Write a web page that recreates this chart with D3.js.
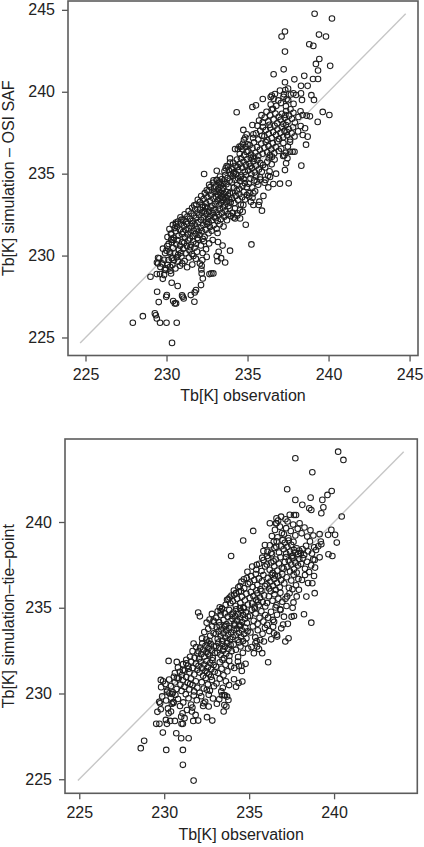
<!DOCTYPE html>
<html>
<head>
<meta charset="utf-8">
<script src="https://cdn.jsdelivr.net/npm/d3@7"></script>
<style>
  body { margin: 0; background: #fff; }
  svg text { font-family: "Liberation Sans", Arial, Helvetica, sans-serif; fill: #222; }
</style>
</head>
<body>
<div id="chart-area"></div>
<script>
/** Data: [Tb observation, Tb simulation] in K **/
const ticksTop = [225, 230, 235, 240, 245];
const ticksBottom = [225, 230, 235, 240];
const xTitle = 'Tb[K] observation';
const yTitleTop = 'Tb[K] simulation \u2013 OSI SAF';
const yTitleBottom = 'Tb[K] simulation\u2013tie\u2013point';

// OSI SAF panel, scattered points away from the band
const osiSafOuter = [
  [239.14,244.76],[240.21,244.47],[237.31,243.68],[237.1,243.37],[239.41,243.49],[239.84,243.37],
  [237.31,242.45],[238.81,242.9],[239.06,242.8],[239.43,242.0],[239.22,241.7],[239.35,241.3],
  [240.1,241.58],[237.23,241.37],[236.61,241.07],[238.5,240.97],[237.89,240.76],[239.04,240.78],
  [239.35,240.78],[237.31,240.58],[238.3,240.36],[238.71,240.36],[237.0,240.07],[237.33,240.11],
  [237.5,240.19],[237.83,239.9],[237.99,239.8],[237.25,239.85],[237.41,239.54],[238.94,239.79],
  [239.1,239.5],[238.3,239.9],[238.36,239.5],[236.43,239.68],[236.5,239.77],[235.94,239.56],
  [235.52,239.17],[235.3,239.07],[234.33,238.75],[239.64,238.77],[240.05,238.58],[239.33,238.16],
  [238.85,238.5],[238.65,238.54],[238.4,238.58],[238.55,237.77],[238.71,237.26],[238.61,236.77],
  [238.32,235.49],[237.62,236.34],[237.78,236.34],[237.9,236.34],[237.54,234.41],[237.0,234.39],
  [236.59,234.37],[236.28,234.16],[236.39,234.8],[236.76,235.0],[237.31,235.22],[237.38,235.63],
  [237.46,235.94],[237.2,236.08],[234.95,237.4],[235.36,237.4],[235.3,237.97],[234.74,237.67],
  [232.32,234.98],[233.1,235.18],[234.23,236.5],[234.4,236.5],[234.5,236.65],[233.92,235.93],
  [233.8,235.43],[234.13,235.02],[232.9,234.6],[233.1,234.62],[233.3,234.5],
  [234.37,232.58],[234.54,232.27],[234.7,232.68],[234.23,232.27],[234.74,233.09],[235.1,233.6],
  [235.36,233.8],[235.73,233.29],[235.98,233.64],[235.69,233.09],[235.89,232.74],[235.36,233.09],
  [235.57,234.51],[235.77,234.78],[235.0,236.79],[234.6,236.65],
  [234.89,231.88],[235.24,230.68],[233.92,230.3],[233.1,229.97],[233.22,230.23],[233.14,229.66],
  [232.89,228.91],[232.77,228.91],[232.65,228.87],[232.17,229.38],[232.15,229.15],[232.17,228.91],
  [232.24,228.6],[232.13,228.2],[231.82,227.89],[231.74,227.75],[231.72,227.18],[231.5,227.59],
  [231.06,227.38],[231.0,227.48],[230.32,228.34],[230.69,228.14],[230.28,228.91],[230.36,229.42],
  [230.12,229.73],[229.89,229.15],[229.85,228.81],[229.77,228.58],[229.48,229.87],[229.48,229.52],
  [229.42,227.79],[229.52,227.16],[229.28,226.47],[229.34,226.36],[229.4,226.16],[229.6,225.9],
  [230.0,225.9],[230.63,225.9],[228.54,226.3],[227.92,225.9],[230.34,224.67],[230.02,227.59],
  [229.98,227.48],[230.41,227.22],[230.51,227.08],[230.59,227.08],[230.96,227.57],[229.95,229.22],
  [230.22,229.32],[230.22,230.13],[229.01,228.71],[229.4,228.87],[229.6,228.87],[229.71,229.52],
  [230.32,229.83],[230.3,231.29],[230.57,231.92],[230.43,230.95],[230.0,230.3],[229.56,229.83]
];

// OSI SAF panel, the dense band
const osiSafCore = [
  [229.62,229.31],[229.85,229.74],[229.41,229.58],[229.93,229.12],
  [230.08,229.44],[230.37,229.86],[230.55,229.21],[230.71,229.63],[230.92,229.95],[230.24,229.07],[230.83,229.38],[230.46,229.71],[230.97,229.52],[230.63,229.9],
  [231.12,229.67],[231.38,229.88],[231.59,229.45],[231.27,229.29],[231.81,229.81],[231.66,229.97],
  [232.21,229.73],[232.48,229.92],[232.06,229.51],[233.37,229.84],[233.62,229.58],
  [229.78,230.42],[229.91,230.16],
  [230.04,230.58],[230.19,230.23],[230.33,230.81],[230.41,230.47],[230.52,230.12],[230.6,230.69],[230.68,230.94],[230.77,230.36],[230.84,230.6],[230.9,230.17],[230.96,230.83],[230.29,230.97],[230.13,230.71],[230.72,230.05],
  [231.03,230.41],[231.09,230.77],[231.18,230.14],[231.26,230.58],[231.34,230.92],[231.42,230.31],[231.51,230.66],[231.57,230.09],[231.65,230.85],[231.73,230.48],[231.82,230.72],[231.88,230.24],[231.95,230.97],[231.47,230.51],
  [232.12,230.62],[232.31,230.87],[232.44,230.39],[232.63,230.74],[232.23,230.16],[232.85,230.95],[233.18,230.83],[233.46,230.61],
  [230.06,231.13],[230.18,231.62],[230.27,231.34],[230.39,231.87],[230.45,231.08],[230.57,231.49],[230.66,231.76],[230.74,231.21],[230.82,231.58],[230.88,231.95],[230.95,231.31],[230.51,231.68],
  [231.02,231.44],[231.07,231.81],[231.14,231.12],[231.19,231.57],[231.25,231.93],[231.32,231.29],[231.37,231.66],[231.44,231.04],[231.49,231.41],[231.55,231.78],[231.61,231.19],[231.68,231.52],[231.74,231.89],[231.79,231.33],[231.86,231.64],[231.91,231.08],[231.97,231.47],[231.58,231.97],
  [232.04,231.26],[232.11,231.69],[232.19,231.48],[232.27,231.87],[232.35,231.15],[232.42,231.58],[232.5,231.93],[232.59,231.36],[232.68,231.74],[232.79,231.52],[232.91,231.85],[232.24,231.02],
  [233.09,231.64],[233.28,231.91],[233.52,231.77],[233.15,231.38],
  [230.71,232.08],[230.86,232.34],[230.93,232.19],[230.58,232.02],
  [231.04,232.16],[231.12,232.52],[231.21,232.07],[231.29,232.38],[231.36,232.71],[231.45,232.24],[231.53,232.57],[231.62,232.11],[231.7,232.44],[231.77,232.83],[231.84,232.29],[231.92,232.63],[231.97,232.05],[231.58,232.92],
  [232.02,232.47],[232.07,232.81],[232.13,232.18],[232.18,232.62],[232.24,232.95],[232.29,232.33],[232.35,232.71],[232.41,232.06],[232.46,232.52],[232.52,232.88],[232.57,232.24],[232.63,232.67],[232.69,232.41],[232.74,232.93],[232.8,232.15],[232.86,232.58],[232.91,232.79],[232.96,232.36],[232.38,232.97],[232.6,232.02],
  [233.03,232.28],[233.09,232.64],[233.16,232.11],[233.22,232.47],[233.29,232.83],[233.35,232.22],[233.42,232.59],[233.49,232.94],[233.57,232.37],[233.64,232.72],[233.73,232.16],[233.81,232.53],[233.9,232.88],[233.97,232.42],
  [234.08,232.61],[234.22,232.87],[234.37,232.44],[234.53,232.76],[234.14,232.32],
  [231.84,233.12],[231.93,233.41],[231.71,233.06],
  [232.06,233.27],[232.14,233.63],[232.21,233.08],[232.29,233.45],[232.36,233.81],[232.44,233.19],[232.52,233.56],[232.59,233.92],[232.67,233.33],[232.74,233.71],[232.82,233.04],[232.89,233.48],[232.96,233.86],[232.48,233.99],
  [233.02,233.15],[233.05,233.58],[233.09,233.91],[233.14,233.34],[233.18,233.72],[233.23,233.06],[233.27,233.47],[233.32,233.84],[233.36,233.23],[233.41,233.61],[233.45,233.97],[233.5,233.38],[233.55,233.76],[233.59,233.11],[233.64,233.52],[233.68,233.89],[233.73,233.29],[233.78,233.67],[233.82,233.02],[233.87,233.43],[233.91,233.81],[233.96,233.26],[233.49,233.54],[233.25,233.99],
  [234.04,233.48],[234.11,233.83],[234.19,233.21],[234.27,233.64],[234.34,233.95],[234.42,233.37],[234.5,233.74],[234.58,233.12],[234.67,233.56],[234.76,233.88],[234.85,233.42],[234.95,233.7],
  [235.12,233.81],[235.31,233.53],[235.47,233.92],[235.21,233.28],
  [232.71,234.18],[232.86,234.44],[232.94,234.09],[232.63,234.32],
  [233.04,234.22],[233.1,234.61],[233.17,234.05],[233.23,234.43],[233.3,234.82],[233.37,234.27],[233.43,234.67],[233.5,234.13],[233.57,234.52],[233.63,234.91],[233.7,234.36],[233.77,234.74],[233.83,234.18],[233.9,234.57],[233.96,234.96],[233.46,234.38],
  [234.03,234.47],[234.09,234.86],[234.16,234.14],[234.22,234.63],[234.29,234.98],[234.36,234.31],[234.42,234.72],[234.49,234.08],[234.56,234.54],[234.62,234.89],[234.69,234.26],[234.76,234.67],[234.83,234.42],[234.9,234.93],[234.96,234.19],[234.58,234.78],
  [235.07,234.38],[235.18,234.71],[235.29,234.16],[235.41,234.59],[235.53,234.88],[235.66,234.33],[235.79,234.64],[235.24,234.96],
  [236.11,234.62],[236.27,234.87],[236.05,234.45],
  [233.58,235.14],[233.71,235.46],[233.84,235.22],[233.92,235.68],[233.65,235.33],
  [234.04,235.27],[234.11,235.66],[234.19,235.09],[234.27,235.48],[234.35,235.86],[234.43,235.21],[234.51,235.59],[234.59,235.94],[234.67,235.36],[234.75,235.73],[234.83,235.12],[234.9,235.52],[234.97,235.88],[234.39,235.41],
  [235.04,235.19],[235.12,235.61],[235.2,235.97],[235.28,235.34],[235.36,235.76],[235.45,235.08],[235.53,235.49],[235.61,235.84],[235.7,235.26],[235.79,235.64],[235.88,235.12],[235.96,235.53],[235.41,235.91],[235.15,235.43],
  [236.09,235.38],[236.22,235.72],[236.36,235.15],[236.49,235.57],[236.67,235.86],[236.31,235.94],
  [234.52,236.21],[234.68,236.49],[234.79,236.12],[234.88,236.64],[234.94,236.33],[234.71,236.82],
  [235.05,236.38],[235.13,236.74],[235.22,236.16],[235.31,236.55],[235.4,236.91],[235.49,236.27],[235.58,236.63],[235.67,236.08],[235.76,236.46],[235.85,236.84],[235.93,236.22],[235.36,236.05],
  [236.04,236.58],[236.12,236.93],[236.21,236.31],[236.29,236.69],[236.38,236.12],[236.47,236.48],[236.56,236.86],[236.65,236.25],[236.74,236.62],[236.84,236.97],[236.93,236.39],[236.51,236.04],
  [237.08,236.52],[237.21,236.87],[237.36,236.28],[237.49,236.66],[237.62,236.94],[237.27,236.11],
  [234.86,237.21],[234.78,237.06],
  [235.34,237.18],[235.52,237.47],[235.66,237.09],[235.78,237.62],[235.89,237.31],[235.95,237.84],[235.61,237.93],
  [236.04,237.28],[236.13,237.66],[236.22,237.05],[236.31,237.43],[236.4,237.81],[236.49,237.17],[236.58,237.54],[236.67,237.92],[236.76,237.36],[236.85,237.71],[236.94,237.12],[236.36,237.98],
  [237.03,237.49],[237.11,237.86],[237.2,237.23],[237.28,237.61],[237.37,237.97],[237.45,237.34],[237.54,237.72],[237.63,237.08],[237.72,237.46],[237.81,237.83],[237.9,237.27],[237.42,237.55],
  [238.12,237.58],[238.28,237.91],[238.41,237.36],
  [235.71,238.24],[235.86,238.57],[235.94,238.13],
  [236.06,238.42],[236.17,238.78],[236.28,238.19],[236.39,238.56],[236.5,238.91],[236.61,238.31],[236.72,238.67],[236.83,238.08],[236.93,238.47],[236.57,238.96],
  [237.04,238.29],[237.12,238.66],[237.21,238.03],[237.3,238.41],[237.38,238.82],[237.47,238.17],[237.56,238.54],[237.65,238.93],[237.74,238.35],[237.83,238.72],[237.92,238.12],[237.34,238.58],
  [238.14,238.46],[238.27,238.81],
  [236.43,239.22],[236.61,239.58],[236.78,239.14],[236.9,239.47],[236.69,239.86],
  [237.06,239.31],[237.22,239.69],[237.37,239.12],[237.51,239.48],[237.68,239.83],[237.84,239.26]
];

// tie-point panel, scattered points away from the band
const tiePointOuter = [
  [240.24,244.1],[240.55,243.62],[237.72,243.72],[238.72,242.9],[237.24,241.91],[237.72,241.29],
  [238.13,241.0],[238.62,241.42],[238.54,240.8],[238.66,240.7],[239.31,241.29],[239.37,240.86],
  [239.25,240.51],[239.61,241.58],[239.86,241.81],[240.45,240.32],[237.64,240.41],[237.76,240.41],
  [236.61,240.22],[236.22,239.93],[236.61,239.93],[235.24,239.48],[234.65,238.92],[233.94,238.02],
  [239.65,239.25],[239.84,239.54],[240.06,239.25],[240.16,238.8],[239.67,238.12],[239.9,238.02],
  [239.15,239.29],[239.25,238.7],[239.15,237.94],[238.86,237.79],[238.82,236.85],[238.72,236.43],
  [238.86,235.85],[238.37,235.65],[238.66,234.13],[238.23,234.62],[237.64,234.52],[237.28,234.06],
  [237.0,234.02],[237.32,233.22],[237.13,233.03],[236.12,231.82],[237.2,235.1],[237.56,235.0],
  [237.24,235.66],[237.8,235.66],[237.93,236.05],
  [236.06,234.0],[236.4,234.29],[236.65,233.32],[236.3,233.16],[235.87,233.03],[235.47,232.74],
  [235.77,232.35],[235.28,232.35],[237.05,234.48],[236.89,233.8],[236.46,233.51],[236.85,234.87],
  [237.5,234.48],[234.4,231.6],[234.55,231.62],[234.23,230.4],[234.6,230.7],[233.4,229.9],[233.58,229.9],
  [232.0,234.72],[232.1,234.5],[232.5,234.13],[232.9,234.25],[233.27,235.03],[233.4,234.97],
  [233.33,234.8],[233.7,235.46],[233.85,235.6],[234.1,236.0],[234.22,235.85],[234.45,236.27],
  [234.69,236.66],[234.9,237.1],[235.18,237.4],[235.45,237.5],[235.77,237.92],[236.06,238.02],
  [236.3,238.2],[236.6,238.55],[236.45,238.85],
  [231.73,224.92],[231.1,225.84],[231.1,226.71],[231.44,227.39],[231.0,227.39],[230.71,227.68],
  [230.12,226.71],[229.92,227.72],[228.62,226.81],[228.82,227.24],[229.53,228.23],[229.72,228.23],
  [229.6,228.93],[229.76,229.43],[230.16,230.1],[230.1,228.46],[230.16,228.23],[230.35,228.4],
  [230.26,228.85],[230.4,228.95],[230.63,228.4],[231.1,228.23],[231.02,228.23],[231.0,228.65],
  [231.2,228.56],[231.08,228.85],[231.34,229.04],[231.63,228.95],[231.71,228.4],[231.85,228.75],
  [232.0,228.42],[232.32,229.43],[232.52,228.62],[232.83,228.42],[232.62,229.24],[233.1,229.4],
  [233.54,229.33],[233.5,228.95],[233.66,229.24],[233.7,229.82],[229.8,229.08],[229.8,230.79],
  [230.26,231.9],[230.75,230.89],[231.1,231.37],[231.3,231.76],[230.55,229.5],[230.45,229.4],[230.31,230.01]
];

// tie-point panel, the dense band
const tiePointCore = [
  [229.71,229.52],[229.88,229.83],
  [230.93,229.27],[230.81,229.68],[230.66,229.91],[230.54,229.44],[230.39,229.76],[230.22,229.13],[230.11,229.59],[230.47,229.97],
  [231.92,229.61],[231.74,229.88],[231.58,229.35],[231.43,229.72],[231.27,229.96],[231.12,229.48],[231.66,229.18],
  [232.87,229.71],[232.62,229.93],[232.41,229.52],[232.18,229.84],[232.29,229.27],
  [233.24,229.66],[233.51,229.91],[233.78,229.62],
  [229.82,230.37],[229.93,230.71],
  [230.96,230.52],[230.85,230.89],[230.73,230.26],[230.62,230.64],[230.51,230.07],[230.4,230.43],[230.29,230.81],[230.18,230.18],[230.07,230.56],[230.57,230.97],
  [231.95,230.34],[231.86,230.71],[231.76,230.12],[231.67,230.49],[231.57,230.87],[231.48,230.23],[231.38,230.62],[231.29,230.96],[231.19,230.39],[231.1,230.77],[231.02,230.15],[231.53,230.55],
  [232.93,230.42],[232.81,230.79],[232.69,230.16],[232.57,230.53],[232.45,230.91],[232.33,230.29],[232.21,230.66],[232.09,230.04],[232.51,230.22],[232.75,230.97],
  [233.08,230.58],[233.27,230.86],[233.45,230.33],[233.63,230.71],[233.82,230.49],[233.36,230.12],
  [234.11,230.83],[234.38,230.61],
  [230.63,231.19],[230.81,231.52],[230.92,231.27],[230.74,231.84],
  [231.96,231.38],[231.87,231.74],[231.77,231.11],[231.68,231.49],[231.58,231.86],[231.49,231.23],[231.39,231.61],[231.3,231.97],[231.2,231.34],[231.11,231.71],[231.04,231.08],[231.44,231.44],
  [232.97,231.27],[232.91,231.66],[232.84,231.94],[232.77,231.41],[232.71,231.78],[232.64,231.12],[232.57,231.53],[232.5,231.89],[232.43,231.31],[232.36,231.69],[232.29,231.04],[232.22,231.47],[232.15,231.83],[232.08,231.22],[232.02,231.61],[232.53,231.21],
  [233.94,231.58],[233.83,231.91],[233.72,231.29],[233.61,231.67],[233.49,231.06],[233.38,231.44],[233.27,231.82],[233.16,231.19],[233.05,231.56],[233.43,231.97],
  [234.13,231.49],[234.34,231.86],[234.57,231.31],[234.79,231.73],
  [231.52,232.14],[231.67,232.47],[231.79,232.09],[231.88,232.71],[231.96,232.33],[231.73,232.91],
  [232.98,232.36],[232.92,232.74],[232.86,232.08],[232.8,232.51],[232.74,232.89],[232.67,232.23],[232.61,232.64],[232.55,232.97],[232.49,232.41],[232.43,232.78],[232.36,232.15],[232.3,232.56],[232.24,232.92],[232.18,232.29],[232.12,232.68],[232.06,232.04],[232.02,232.46],[232.58,232.32],
  [233.97,232.46],[233.91,232.83],[233.84,232.19],[233.78,232.61],[233.71,232.94],[233.65,232.32],[233.58,232.72],[233.52,232.06],[233.45,232.49],[233.39,232.87],[233.32,232.26],[233.26,232.66],[233.19,232.97],[233.13,232.38],[233.06,232.77],[233.48,232.58],
  [234.94,232.62],[234.78,232.91],[234.63,232.37],[234.49,232.74],[234.35,232.13],[234.22,232.55],[234.09,232.86],[234.41,232.98],
  [235.14,232.71],[235.37,232.93],[235.58,232.59],
  [232.23,233.21],[232.36,233.58],[232.48,233.14],[232.59,233.77],[232.71,233.36],[232.82,233.92],[232.91,233.51],[232.66,233.07],
  [233.04,233.47],[233.09,233.86],[233.15,233.18],[233.2,233.62],[233.26,233.97],[233.32,233.34],[233.37,233.73],[233.43,233.08],[233.49,233.51],[233.54,233.89],[233.6,233.26],[233.66,233.68],[233.71,233.04],[233.77,233.43],[233.83,233.81],[233.88,233.17],[233.94,233.56],[233.61,233.94],
  [234.03,233.29],[234.09,233.71],[234.15,233.96],[234.21,233.38],[234.27,233.77],[234.33,233.13],[234.4,233.54],[234.46,233.92],[234.52,233.31],[234.58,233.68],[234.64,233.06],[234.7,233.47],[234.77,233.84],[234.84,233.22],[234.91,233.63],[234.5,233.99],
  [235.08,233.56],[235.22,233.91],[235.36,233.27],[235.51,233.69],[235.65,233.12],[235.79,233.48],[235.93,233.83],[235.44,233.05],
  [236.18,233.64],[236.41,233.89],[236.63,233.42],
  [232.67,234.31],[232.81,234.64],[232.93,234.18],
  [233.06,234.42],[233.15,234.79],[233.23,234.16],[233.32,234.57],[233.4,234.93],[233.49,234.28],[233.57,234.67],[233.66,234.04],[233.74,234.48],[233.83,234.86],[233.91,234.22],[233.97,234.61],
  [234.02,234.34],[234.07,234.72],[234.13,234.08],[234.18,234.51],[234.24,234.91],[234.3,234.26],[234.35,234.64],[234.41,234.02],[234.47,234.43],[234.52,234.82],[234.58,234.17],[234.64,234.58],[234.69,234.97],[234.75,234.36],[234.81,234.73],[234.87,234.11],[234.93,234.49],[234.46,234.99],
  [235.05,234.53],[235.16,234.88],[235.27,234.24],[235.38,234.67],[235.5,234.06],[235.61,234.41],[235.72,234.79],[235.84,234.19],[235.95,234.57],[235.33,234.96],
  [236.12,234.42],[236.29,234.76],[236.47,234.18],[236.64,234.59],[236.83,234.91],
  [233.62,235.17],[233.78,235.49],[233.89,235.26],[233.96,235.71],
  [234.04,235.38],[234.12,235.76],[234.21,235.11],[234.3,235.52],[234.39,235.93],[234.48,235.27],[234.57,235.64],[234.66,235.02],[234.75,235.43],[234.84,235.82],[234.93,235.19],[234.52,235.97],
  [235.03,235.57],[235.1,235.92],[235.18,235.24],[235.25,235.68],[235.33,235.06],[235.41,235.46],[235.48,235.84],[235.56,235.15],[235.64,235.59],[235.72,235.97],[235.8,235.33],[235.88,235.72],[235.95,235.08],[235.52,235.36],
  [236.05,235.28],[236.16,235.67],[236.27,235.96],[236.38,235.41],[236.49,235.79],[236.61,235.14],[236.72,235.53],[236.84,235.88],[236.95,235.35],[236.56,235.02],
  [237.14,235.52],[237.38,235.84],[237.61,235.31],
  [234.36,236.19],[234.55,236.52],[234.71,236.14],[234.86,236.73],[234.94,236.38],
  [235.04,236.47],[235.12,236.84],[235.21,236.21],[235.3,236.62],[235.39,236.97],[235.48,236.33],[235.57,236.71],[235.66,236.08],[235.75,236.54],[235.84,236.91],[235.93,236.26],[235.43,236.02],
  [236.03,236.36],[236.1,236.74],[236.18,236.12],[236.25,236.53],[236.33,236.92],[236.41,236.28],[236.48,236.67],[236.56,236.04],[236.64,236.45],[236.72,236.83],[236.8,236.19],[236.88,236.61],[236.95,236.96],[236.52,236.88],
  [237.07,236.42],[237.21,236.78],[237.34,236.16],[237.48,236.59],[237.62,236.93],[237.76,236.31],[237.9,236.68],[237.55,236.08],
  [238.11,236.62],[238.29,236.91],[238.47,236.44],
  [235.42,237.23],[235.59,237.56],[235.73,237.14],[235.85,237.78],[235.94,237.41],
  [236.04,237.52],[236.12,237.88],[236.21,237.21],[236.3,237.64],[236.39,237.03],[236.48,237.42],[236.57,237.81],[236.66,237.17],[236.75,237.58],[236.84,237.94],[236.93,237.33],[236.44,237.71],
  [237.03,237.28],[237.1,237.67],[237.18,237.96],[237.25,237.39],[237.33,237.76],[237.41,237.11],[237.48,237.52],[237.56,237.89],[237.64,237.24],[237.72,237.63],[237.8,237.05],[237.88,237.46],[237.95,237.83],[237.52,237.99],
  [238.06,237.56],[238.17,237.89],[238.29,237.27],[238.41,237.68],[238.53,237.08],[238.65,237.47],[238.77,237.82],[238.88,237.34],
  [235.84,238.31],[235.93,238.66],
  [236.08,238.27],[236.22,238.64],[236.35,238.12],[236.49,238.49],[236.62,238.87],[236.76,238.22],[236.89,238.58],[236.97,238.94],
  [237.03,238.41],[237.1,238.79],[237.18,238.16],[237.25,238.55],[237.33,238.92],[237.41,238.28],[237.48,238.67],[237.56,238.04],[237.64,238.36],[237.72,238.22],[237.8,238.47],[237.88,238.13],[237.95,238.33],[237.61,238.84],
  [238.05,238.19],[238.14,238.42],[238.24,238.08],[238.35,238.61],[238.47,238.29],[238.58,238.87],[238.7,238.16],[238.83,238.53],[238.94,238.37],
  [239.07,238.58],[239.22,238.86],
  [236.34,239.18],[236.52,239.54],[236.67,239.11],[236.81,239.73],[236.93,239.36],[236.58,239.92],
  [237.05,239.28],[237.18,239.64],[237.31,239.07],[237.45,239.47],[237.59,239.85],[237.72,239.22],[237.86,239.61],[237.97,239.93],
  [238.09,239.34],[238.26,239.68],[238.42,239.15],[238.61,239.52],[238.78,239.21],
  [236.71,240.08],[236.88,240.31],[237.14,240.16],[237.39,240.42],[237.26,240.03]
];


/** Panel **/
function drawPanel(svg, points, p) {
    const x = d3.scaleLinear().domain(p.xDomain).range([p.left, p.right]);
    const y = d3.scaleLinear().domain(p.yDomain).range([p.bottom, p.top]);
    const g = svg.append('g');

    /* 1:1 line over the simulated range */
    const ext = d3.extent(points, d => d[1]);
    g.append('line')
        .attr('x1', x(ext[0])).attr('y1', y(ext[0]))
        .attr('x2', x(ext[1])).attr('y2', y(ext[1]))
        .attr('stroke', '#c6c6c6')
        .attr('stroke-width', 1.4);

    /* Points */
    g.selectAll('circle')
        .data(points)
        .enter().append('circle')
            .attr('cx', d => x(d[0]))
            .attr('cy', d => y(d[1]))
            .attr('r', 2.8)
            .attr('fill', 'none')
            .attr('stroke', '#1e1e1e')
            .attr('stroke-width', 1.05);

    /* Axes */
    const xAxis = g.append('g')
        .attr('transform', `translate(0,${p.bottom})`)
        .call(d3.axisBottom(x).tickValues(p.ticks).tickSize(6).tickPadding(7).tickFormat(d3.format('d')));
    const yAxis = g.append('g')
        .attr('transform', `translate(${p.left},0)`)
        .call(d3.axisLeft(y).tickValues(p.ticks).tickSize(6).tickPadding(7).tickFormat(d3.format('d')));

    [xAxis, yAxis].forEach(a => {
        a.select('.domain').remove();
        a.selectAll('line').attr('stroke', '#555').attr('stroke-width', 1.3);
        a.selectAll('text').attr('font-size', 16).attr('font-family', null).style('fill', '#222');
    });

    /* Box */
    g.append('rect')
        .attr('x', p.left).attr('y', p.top)
        .attr('width', p.right - p.left)
        .attr('height', p.bottom - p.top)
        .attr('fill', 'none')
        .attr('stroke', '#5c5c5c')
        .attr('stroke-width', 1.6);

    /* Labels */
    g.append('text')
        .attr('x', (p.left + p.right) / 2)
        .attr('y', p.xTitleY)
        .attr('text-anchor', 'middle')
        .attr('font-size', 16)
        .text(xTitle);

    g.append('text')
        .attr('transform', `translate(${p.yTitleX},${(p.top + p.bottom) / 2}) rotate(-90)`)
        .attr('text-anchor', 'middle')
        .attr('font-size', 16)
        .text(p.yTitle);
}


const svg = d3.select('#chart-area')
    .append('svg')
    .attr('width', 424)
    .attr('height', 847);

drawPanel(svg, osiSafOuter.concat(osiSafCore), {
    left: 68, right: 418, top: 1, bottom: 355.5,
    xDomain: [223.92, 245.52], yDomain: [223.9, 245.54],
    ticks: ticksTop, yTitle: yTitleTop,
    xTitleY: 401, yTitleX: 14
});

drawPanel(svg, tiePointOuter.concat(tiePointCore), {
    left: 65, right: 417.3, top: 439, bottom: 793.3,
    xDomain: [224.16, 244.9], yDomain: [224.18, 244.84],
    ticks: ticksBottom, yTitle: yTitleBottom,
    xTitleY: 840, yTitleX: 13.5
});
</script>
</body>
</html>
